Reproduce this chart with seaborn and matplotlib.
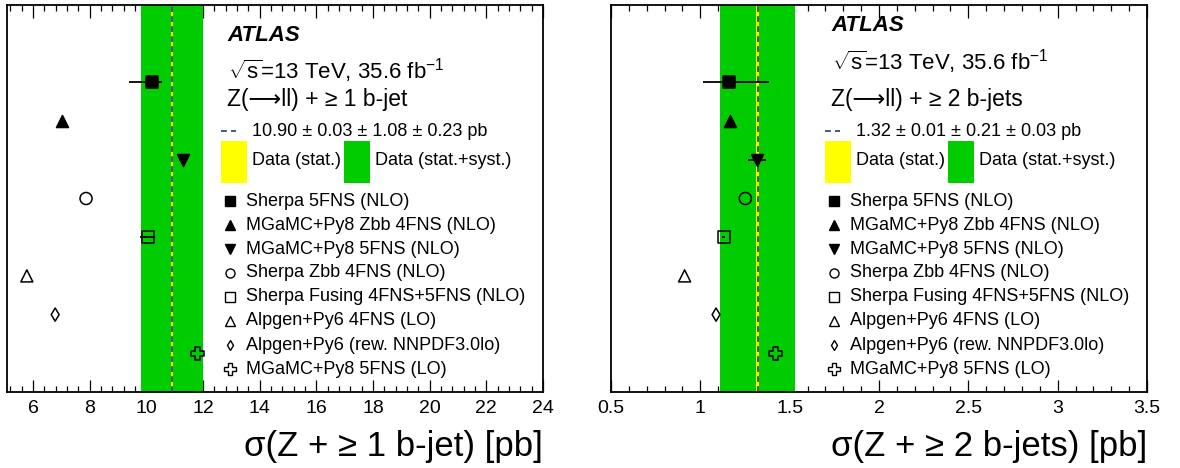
import matplotlib
matplotlib.use("Agg")
import matplotlib.pyplot as plt
import matplotlib.patches as mpatches
from matplotlib.ticker import MultipleLocator
import seaborn as sns

sns.set_theme(style="white")
plt.rcParams['font.family'] = ['Liberation Sans', 'DejaVu Sans']
plt.rcParams['mathtext.fontset'] = 'custom'
plt.rcParams['mathtext.rm'] = 'Liberation Sans'
plt.rcParams['mathtext.it'] = 'Liberation Sans:italic'
plt.rcParams['text.color'] = 'black'
plt.rcParams['axes.labelcolor'] = 'black'
plt.rcParams['xtick.color'] = 'black'

# ---------------- data ----------------
models = ["Sherpa 5FNS (NLO)",
          "MGaMC+Py8 Zbb 4FNS (NLO)",
          "MGaMC+Py8 5FNS (NLO)",
          "Sherpa Zbb 4FNS (NLO)",
          "Sherpa Fusing 4FNS+5FNS (NLO)",
          "Alpgen+Py6 4FNS (LO)",
          "Alpgen+Py6 (rew. NNPDF3.0lo)",
          "MGaMC+Py8 5FNS (LO)"]
markers = ["s", "^", "v", "o", "s", "^", "d", "P"]
filled = [True, True, True, False, False, False, False, False]

# >= 1 b-jet
pred1 = [10.20, 7.01, 11.29, 7.87, 10.04, 5.78, 6.78, 11.80]
err1_lo = [0.81, 0.05, 0.15, 0.0, 0.25, 0.0, 0.0, 0.0]
err1_hi = [0.36, 0.05, 0.15, 0.0, 0.25, 0.0, 0.0, 0.0]
data1 = 10.90
stat1, syst1, lumi1 = 0.03, 1.08, 0.23

# >= 2 b-jets
pred2 = [1.158, 1.168, 1.317, 1.252, 1.130, 0.912, 1.088, 1.421]
err2_lo = [0.145, 0.02, 0.048, 0.0, 0.01, 0.0, 0.0, 0.0]
err2_hi = [0.228, 0.02, 0.048, 0.0, 0.01, 0.0, 0.0, 0.0]
data2 = 1.32
stat2, syst2, lumi2 = 0.01, 0.21, 0.03

ypos = [8, 7, 6, 5, 4, 3, 2, 1]

GREEN = "#00cc00"
YELLOW = "#ffff00"
NAVY = "#1f3c78"

fig = plt.figure(figsize=(11.8, 4.68), dpi=100)
W, H = 1180.0, 468.0
axL = fig.add_axes([7 / W, 76 / H, 536 / W, 387 / H])
axR = fig.add_axes([611 / W, 76 / H, 536 / W, 387 / H])


def draw_panel(ax, pred, elo, ehi, data, stat, syst, lumi, xlim, major, minor,
               xlabel, selection, result_txt, atlas_y, sqrt_y):
    tot = (stat ** 2 + syst ** 2 + lumi ** 2) ** 0.5
    ax.axvspan(data - tot, data + tot, color=GREEN, lw=0, zorder=1)
    ax.axvspan(data - stat, data + stat, color=YELLOW, lw=0, zorder=2)
    ax.axvline(data, color=NAVY, lw=1.2, dashes=(3.5, 2.5), zorder=3)

    for i in range(len(pred)):
        if elo[i] > 0 or ehi[i] > 0:
            ax.errorbar([pred[i]], [ypos[i]], xerr=[[elo[i]], [ehi[i]]],
                        fmt="none", ecolor="black", elinewidth=1.3, capsize=0,
                        zorder=4)
        sz = 75
        if markers[i] == "d":
            sz = 45
        if markers[i] == "P":
            sz = 95
        sns.scatterplot(x=[pred[i]], y=[ypos[i]], marker=markers[i], s=sz,
                        color="black", edgecolor="black", linewidth=1.1,
                        ax=ax, zorder=5, legend=False)
        if not filled[i]:
            ax.collections[-1].set_facecolor("none")

    ax.set_xlim(*xlim)
    ax.set_ylim(0, 10)
    ax.set_yticks([])
    ax.set_ylabel("")
    ax.xaxis.set_major_locator(MultipleLocator(major))
    ax.xaxis.set_minor_locator(MultipleLocator(minor))
    ax.tick_params(axis="x", which="both", direction="in", top=True,
                   bottom=True, labelsize=14, pad=6, color="black",
                   labelcolor="black")
    ax.tick_params(axis="x", which="major", length=9, width=0.9)
    ax.tick_params(axis="x", which="minor", length=4.5, width=0.9)
    for sp in ax.spines.values():
        sp.set_color("black")
        sp.set_linewidth(1.3)
    ax.set_xlabel(xlabel, loc="right", fontsize=25, labelpad=9, color="black")

    tr = ax.transAxes
    ax.text(0.412, atlas_y, "ATLAS", transform=tr, fontsize=16,
            fontweight="bold", fontstyle="italic", va="center", ha="left")
    ax.text(0.412, sqrt_y, r"$\sqrt{\mathrm{s}}$=13 TeV, 35.6 fb$^{\mathrm{-1}}$",
            transform=tr, fontsize=16, va="center", ha="left")
    ax.text(0.410, 0.755, selection, transform=tr, fontsize=16.5,
            va="center", ha="left")
    ax.plot([0.399, 0.428], [0.674, 0.674], transform=tr, color=NAVY,
            lw=1.2, dashes=(3.5, 2.5), clip_on=False)
    ax.text(0.457, 0.674, result_txt, transform=tr, fontsize=13,
            va="center", ha="left")
    ax.add_patch(mpatches.Rectangle((0.399, 0.540), 0.048, 0.109,
                                    transform=tr, color=YELLOW, lw=0,
                                    clip_on=False))
    ax.text(0.458, 0.597, "Data (stat.)", transform=tr, fontsize=13,
            va="center", ha="left")
    ax.add_patch(mpatches.Rectangle((0.629, 0.540), 0.048, 0.109,
                                    transform=tr, color=GREEN, lw=0,
                                    clip_on=False))
    ax.text(0.687, 0.597, "Data (stat.+syst.)", transform=tr, fontsize=13,
            va="center", ha="left")

    leg_y = [0.4935, 0.4315, 0.3695, 0.3075, 0.2455, 0.1835, 0.1214, 0.0594]
    for i, name in enumerate(models):
        sz = 6.5
        if markers[i] == "d":
            sz = 5.5
        if markers[i] == "P":
            sz = 8
        ax.plot([0.416], [leg_y[i]], transform=tr, marker=markers[i],
                ms=sz, mec="black", mew=1.0,
                mfc="black" if filled[i] else "none", ls="none",
                clip_on=False)
        ax.text(0.446, leg_y[i], name, transform=tr, fontsize=13,
                va="center", ha="left")


draw_panel(axL, pred1, err1_lo, err1_hi, data1, stat1, syst1, lumi1,
           (5.08, 24), 2, 0.4, r"σ(Z + ≥ 1 b-jet) [pb]",
           "Z(⟶ll) + ≥ 1 b-jet", "10.90 ± 0.03 ± 1.08 ± 0.23 pb",
           0.922, 0.830)
draw_panel(axR, pred2, err2_lo, err2_hi, data2, stat2, syst2, lumi2,
           (0.5, 3.5), 0.5, 0.1, r"σ(Z + ≥ 2 b-jets) [pb]",
           "Z(⟶ll) + ≥ 2 b-jets", "1.32 ± 0.01 ± 0.21 ± 0.03 pb",
           0.948, 0.853)

axR.xaxis.set_major_formatter(matplotlib.ticker.FuncFormatter(
    lambda v, p: ("%g" % v)))

fig.savefig("out.png", dpi=100, facecolor="white")
